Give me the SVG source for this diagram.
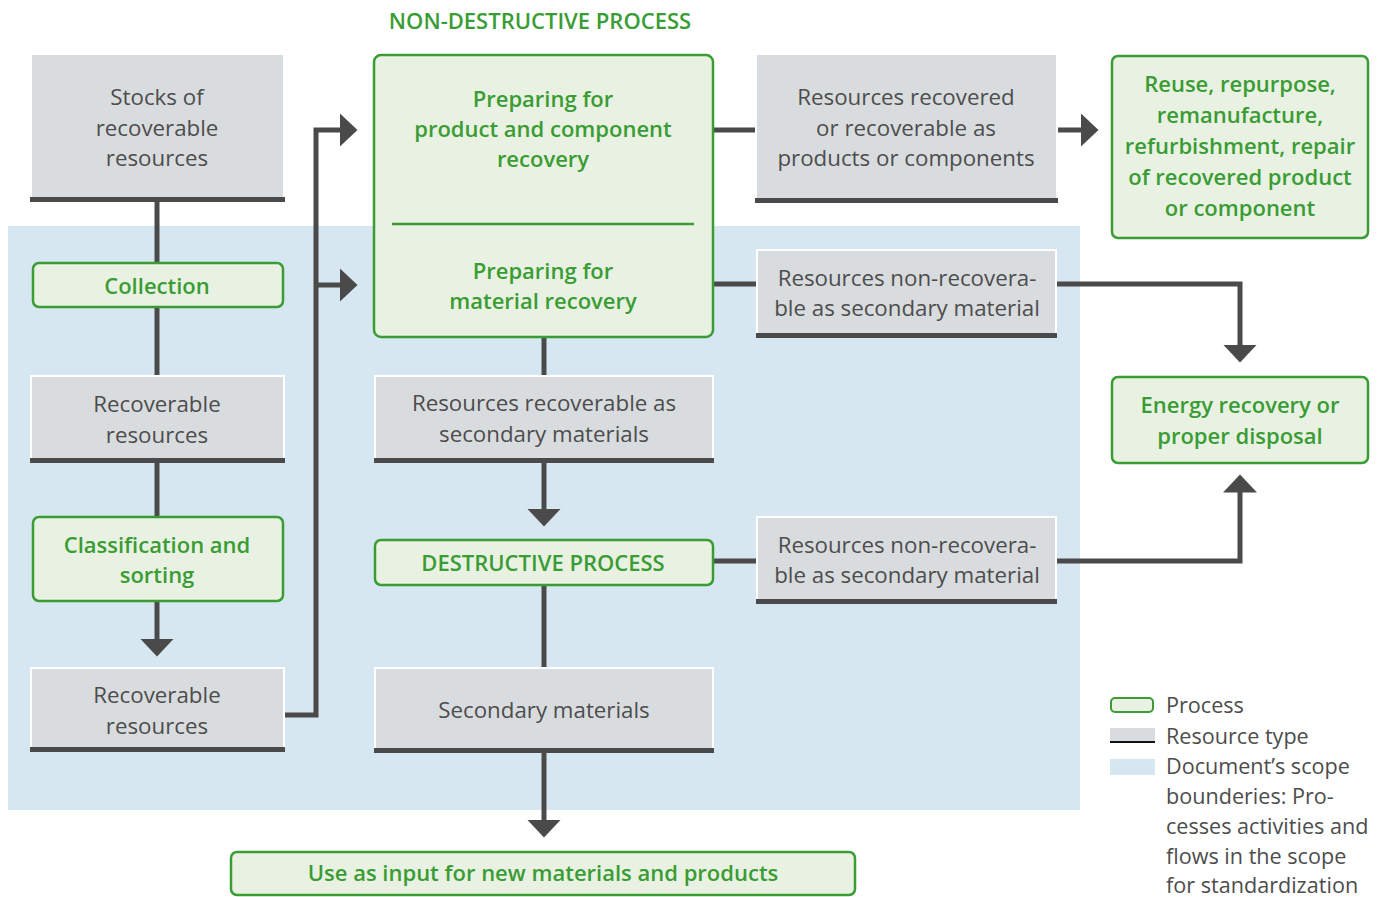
<svg xmlns="http://www.w3.org/2000/svg" width="1383" height="897" viewBox="0 0 1383 897">
<style>
.proc{fill:#e9f2e2;stroke:#3a9c34;stroke-width:2.5}
.res{fill:#d9dcde;stroke:#ffffff;stroke-width:2}
.bar{fill:#4a4a4a}
.gt{font-family:"Open Sans","Noto Sans","Liberation Sans",sans-serif;font-size:22px;font-weight:600;fill:#3a9c34;text-anchor:middle}
.dt{font-family:"Open Sans","Noto Sans","Liberation Sans",sans-serif;font-size:22.3px;font-weight:400;fill:#4d4d4d;text-anchor:middle}
.lt{font-family:"Open Sans","Noto Sans","Liberation Sans",sans-serif;font-size:21.6px;font-weight:400;fill:#4d4d4d}
.con{fill:none;stroke:#4a4a4a;stroke-width:5;stroke-linejoin:miter}
.arr{marker-end:url(#ah)}
</style>
<defs>
<marker id="ah" markerUnits="userSpaceOnUse" markerWidth="19" markerHeight="34" refX="0.5" refY="17" orient="auto" viewBox="0 0 19 34">
<path d="M0,0 L18,17 L0,34 Z" fill="#4a4a4a"/>
</marker>
</defs>
<rect id="scope" x="8" y="226" width="1072" height="584" fill="#d6e7f1"/>
<text class="gt" x="540" y="29">NON-DESTRUCTIVE PROCESS</text>
<g id="connectors">
<path class="con" d="M157,202 V263"/>
<path class="con" d="M157,307 V376"/>
<path class="con" d="M157,463 V517"/>
<path class="con arr" d="M157,601 V639"/>
<path class="con arr" d="M285,715 H316 V130 H340"/>
<path class="con arr" d="M316,285 H340"/>
<path class="con" d="M713,130 H755"/>
<path class="con arr" d="M1058,130 H1081"/>
<path class="con" d="M713,284 H757"/>
<path class="con arr" d="M1057,284 H1240 V345"/>
<path class="con" d="M544,337 V376"/>
<path class="con arr" d="M544,463 V509"/>
<path class="con" d="M713,561 H757"/>
<path class="con arr" d="M1057,561 H1240 V492"/>
<path class="con" d="M544,585 V668"/>
<path class="con arr" d="M544,752 V820"/>
</g>
<g id="stocks">
<rect class="res" x="31" y="54" width="253" height="144"/>
<rect class="bar" x="30" y="197" width="255" height="5"/>
<text class="dt" x="157" y="105">Stocks of</text>
<text class="dt" x="157" y="135.5">recoverable</text>
<text class="dt" x="157" y="166">resources</text>
</g>
<g id="collection">
<rect class="proc" x="33" y="263" width="250" height="44" rx="6"/>
<text class="gt" x="157" y="294">Collection</text>
</g>
<g id="recoverable1">
<rect class="res" x="31" y="376" width="253" height="83"/>
<rect class="bar" x="30" y="458" width="255" height="5"/>
<text class="dt" x="157" y="412">Recoverable</text>
<text class="dt" x="157" y="443">resources</text>
</g>
<g id="classification">
<rect class="proc" x="33" y="517" width="250" height="84" rx="6"/>
<text class="gt" x="157" y="553">Classification and</text>
<text class="gt" x="157" y="583">sorting</text>
</g>
<g id="recoverable2">
<rect class="res" x="31" y="668" width="253" height="80"/>
<rect class="bar" x="30" y="747" width="255" height="5"/>
<text class="dt" x="157" y="703">Recoverable</text>
<text class="dt" x="157" y="734">resources</text>
</g>
<g id="preparing">
<rect class="proc" x="374" y="55" width="339" height="282" rx="7"/>
<line x1="392" y1="224" x2="694" y2="224" stroke="#3a9c34" stroke-width="2.5"/>
<text class="gt" x="543" y="107">Preparing for</text>
<text class="gt" x="543" y="137">product and component</text>
<text class="gt" x="543" y="167">recovery</text>
<text class="gt" x="543" y="279">Preparing for</text>
<text class="gt" x="543" y="309">material recovery</text>
</g>
<g id="recovered-products">
<rect class="res" x="756" y="54" width="301" height="145"/>
<rect class="bar" x="755" y="198" width="303" height="5"/>
<text class="dt" x="906" y="105">Resources recovered</text>
<text class="dt" x="906" y="135.5">or recoverable as</text>
<text class="dt" x="906" y="166">products or components</text>
</g>
<g id="reuse">
<rect class="proc" x="1112" y="56" width="256" height="182" rx="6"/>
<text class="gt" x="1240" y="92">Reuse, repurpose,</text>
<text class="gt" x="1240" y="123">remanufacture,</text>
<text class="gt" x="1240" y="154">refurbishment, repair</text>
<text class="gt" x="1240" y="185">of recovered product</text>
<text class="gt" x="1240" y="216">or component</text>
</g>
<g id="nonrecoverable1">
<rect class="res" x="757" y="250" width="299" height="84"/>
<rect class="bar" x="756" y="333" width="301" height="5"/>
<text class="dt" x="907" y="286">Resources non-recovera-</text>
<text class="dt" x="907" y="316">ble as secondary material</text>
</g>
<g id="energy">
<rect class="proc" x="1112" y="377" width="256" height="86" rx="6"/>
<text class="gt" x="1240" y="413">Energy recovery or</text>
<text class="gt" x="1240" y="444">proper disposal</text>
</g>
<g id="recoverable-secondary">
<rect class="res" x="375" y="376" width="338" height="83"/>
<rect class="bar" x="374" y="458" width="340" height="5"/>
<text class="dt" x="544" y="411">Resources recoverable as</text>
<text class="dt" x="544" y="442">secondary materials</text>
</g>
<g id="destructive">
<rect class="proc" x="375" y="540" width="338" height="45" rx="6"/>
<text class="gt" x="543" y="571">DESTRUCTIVE PROCESS</text>
</g>
<g id="nonrecoverable2">
<rect class="res" x="757" y="517" width="299" height="83"/>
<rect class="bar" x="756" y="599" width="301" height="5"/>
<text class="dt" x="907" y="553">Resources non-recovera-</text>
<text class="dt" x="907" y="583">ble as secondary material</text>
</g>
<g id="secondary">
<rect class="res" x="375" y="668" width="338" height="81"/>
<rect class="bar" x="374" y="748" width="340" height="5"/>
<text class="dt" x="544" y="718">Secondary materials</text>
</g>
<g id="use-input">
<rect class="proc" x="231" y="852" width="624" height="43" rx="6"/>
<text class="gt" x="543" y="881">Use as input for new materials and products</text>
</g>
<g id="legend">
<rect x="1111" y="698" width="42" height="14" rx="4" fill="#e9f2e2" stroke="#3a9c34" stroke-width="2"/>
<text class="lt" x="1166" y="713">Process</text>
<rect x="1110" y="728" width="45" height="14" fill="#d9dcde"/>
<rect x="1110" y="741" width="45" height="2" fill="#111111"/>
<text class="lt" x="1166" y="743.5">Resource type</text>
<rect x="1110" y="759" width="45" height="16" fill="#d6e7f1"/>
<text class="lt" x="1166" y="774">Document’s scope</text>
<text class="lt" x="1166" y="804">bounderies: Pro-</text>
<text class="lt" x="1166" y="834">cesses activities and</text>
<text class="lt" x="1166" y="864">flows in the scope</text>
<text class="lt" x="1166" y="893">for standardization</text>
</g>
</svg>
